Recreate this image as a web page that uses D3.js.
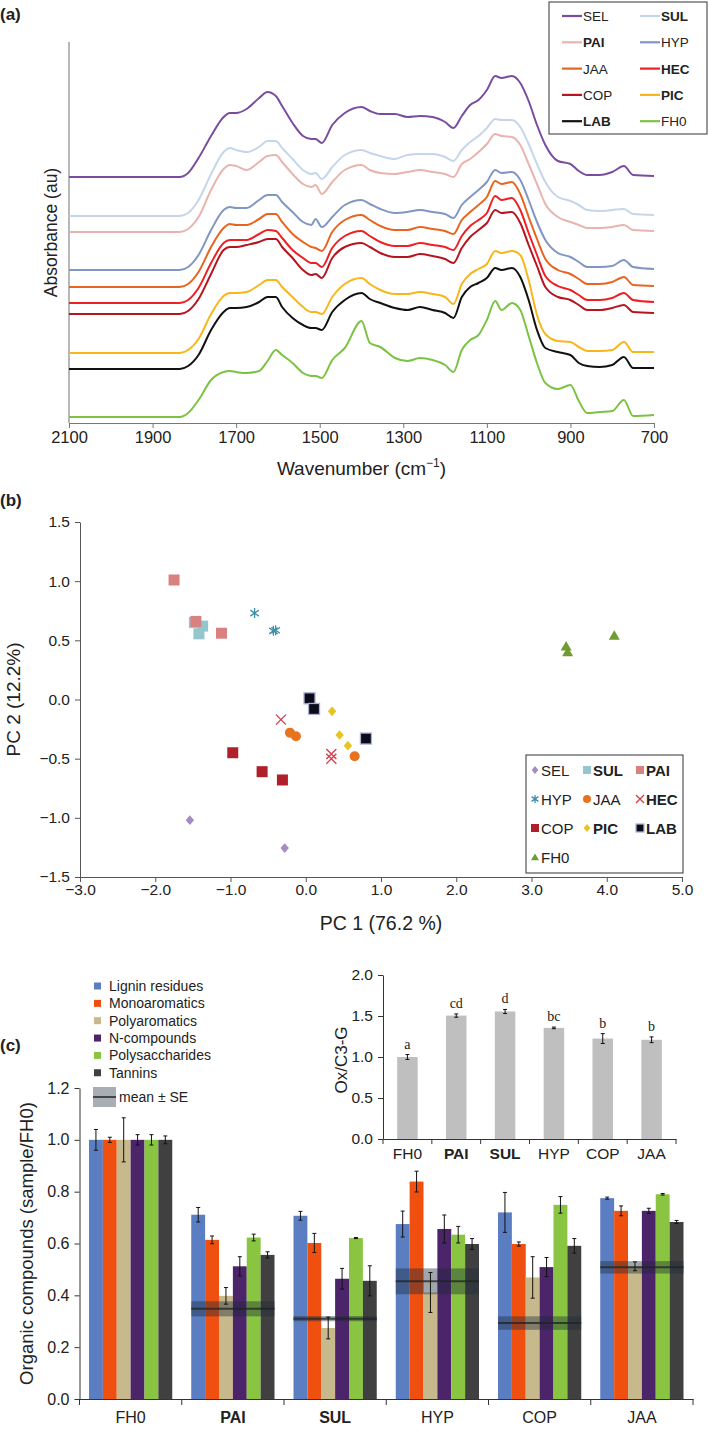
<!DOCTYPE html>
<html><head><meta charset="utf-8">
<script src="https://cdn.jsdelivr.net/npm/d3@7"></script>
<style>
body{margin:0;background:#fff;}
svg{display:block;font-family:"Liberation Sans",Arial,Helvetica,sans-serif;}
</style></head><body>
<svg id="chart" width="709" height="1430"></svg>
<script>
// ================= Panel (a) data =================
const wavenumbers = [2100,1835,1815,1790,1760,1730,1715,1700,1675,1645,1625,1605,1590,1565,1540,1520,1510,1495,1470,1440,1400,1380,1355,1320,1290,1260,1230,1200,1180,1160,1140,1120,1100,1080,1065,1040,1020,1000,980,960,930,900,880,860,830,800,772,750,700];
const spectraNames = ["SEL","SUL","PAI","HYP","JAA","HEC","COP","PIC","LAB","FH0"];
const spectraBold = [false,true,true,false,false,true,false,true,true,false];
const spectraColors = ["#7a4c9f","#c6d6ea","#e9b3af","#8196c2","#e8651f","#ee2024","#b5151f","#f8b61b","#111111","#7cc243"];
const spectraOffsets = [246,207,191,153,136,120,109,70,54,6];
const absSEL = [0,0,4,19,41,60,64,64,68,79,85,81,71,54,41,38,38,34,52,64,70,66,63,63,60,61,60,55,49,61,72,77,87,101,99,101,94,76,52,32,16,13,6,2,2,5,11,2,1];
const absSUL = [0,0,3,16,42,64,68,66,64,69,75,75,68,57,46,42,43,37,49,61,66,63,60,57,61,62,62,59,55,66,74,80,88,97,96,96,89,72,52,34,19,15,11,6,5,6,7,2,1];
const absPAI = [0,0,3,15,42,63,67,66,62,70,76,77,70,58,48,45,47,38,50,62,67,62,59,58,60,62,60,58,55,68,73,80,88,98,96,95,87,68,48,28,15,10,7,4,4,5,7,2,1];
const absHYP = [0,0,3,15,40,60,63,62,62,70,75,75,68,58,48,45,51,43,53,65,70,66,61,57,58,60,58,56,52,65,73,80,88,100,97,98,90,70,48,30,17,13,8,3,3,4,10,3,1];
const absJAA = [0,0,3,15,40,59,63,62,62,68,73,73,65,53,45,40,39,36,55,67,72,67,61,57,57,60,58,56,53,67,75,82,90,106,103,105,93,70,48,28,17,13,8,3,3,5,10,2,1];
const absHEC = [0,0,3,15,40,60,63,63,63,69,73,72,65,53,45,40,40,36,55,67,72,67,61,57,57,60,58,56,53,67,77,83,90,107,103,105,93,70,48,27,17,13,8,3,3,5,10,3,1];
const absCOP = [0,0,3,15,40,64,67,67,69,72,75,75,67,56,44,39,40,36,56,67,71,67,61,57,57,60,58,55,51,66,77,84,91,104,101,102,91,69,48,27,17,14,9,4,4,6,9,2,1];
const absPIC = [0,0,3,14,39,57,60,60,61,68,73,73,66,56,46,41,41,39,56,69,75,69,63,59,59,61,59,56,49,69,79,84,89,102,100,102,98,73,38,19,12,11,6,2,2,3,11,1,1];
const absLAB = [0,0,3,14,39,57,61,61,62,67,72,72,62,51,44,41,41,39,57,69,76,70,66,61,59,62,59,56,51,72,82,86,91,101,99,101,92,69,39,21,17,14,6,3,2,4,12,1,1];
const absFH0 = [0,0,4,17,37,45,46,45,44,46,56,67,62,54,44,41,41,39,57,69,96,74,70,59,56,59,57,52,45,67,77,82,97,116,107,114,107,81,54,34,28,32,16,4,5,6,17,1,2];
const spectra = [absSEL,absSUL,absPAI,absHYP,absJAA,absHEC,absCOP,absPIC,absLAB,absFH0];
const wnTicks = [2100,1900,1700,1500,1300,1100,900,700];

// ================= Panel (b) data =================
const pcaNames = ["SEL","SUL","PAI","HYP","JAA","HEC","COP","PIC","LAB","FH0"];
const pcaBold = [false,true,true,false,false,true,false,true,true,false];
const pcaColors = ["#a48cc1","#93c6cd","#d98080","#3f8eab","#e8731f","#d63a4b","#b0202a","#e9c420","#0b0b1c","#6f9b2f"];
const pointGroup = ["SEL","SEL","SUL","SUL","SUL","PAI","PAI","PAI","HYP","HYP","HYP","JAA","JAA","JAA","HEC","HEC","HEC","COP","COP","COP","PIC","PIC","PIC","LAB","LAB","LAB","FH0","FH0","FH0"];
const pointPC1 = [-1.54,-0.28,-1.48,-1.37,-1.42,-1.75,-1.46,-1.12,-0.68,-0.43,-0.40,-0.21,-0.13,0.65,-0.33,0.34,0.34,-0.97,-0.58,-0.31,0.35,0.45,0.56,0.05,0.11,0.80,3.46,3.48,4.10];
const pointPC2 = [-1.02,-1.255,0.65,0.62,0.555,1.01,0.66,0.56,0.73,0.58,0.585,-0.28,-0.31,-0.48,-0.17,-0.46,-0.50,-0.45,-0.61,-0.68,-0.10,-0.30,-0.39,0.01,-0.08,-0.33,0.45,0.40,0.54];
const pc1Ticks = [-3,-2,-1,0,1,2,3,4,5];
const pc2Ticks = [-1.5,-1,-0.5,0,0.5,1,1.5];

// ================= Panel (c) data =================
const groups = ["FH0","PAI","SUL","HYP","COP","JAA"];
const groupBold = [false,true,true,false,false,false];
const compounds = ["Lignin residues","Monoaromatics","Polyaromatics","N-compounds","Polysaccharides","Tannins"];
const compoundColors = ["#5b7ec3","#ef5010","#c8b98c","#4b2469","#89c540","#404040"];
const lignin = [1.0,0.711,0.707,0.675,0.720,0.775];
const monoarom = [1.0,0.614,0.602,0.839,0.598,0.726];
const polyarom = [1.0,0.398,0.274,0.411,0.469,0.512];
const ncomp = [1.0,0.512,0.464,0.656,0.509,0.726];
const polysacch = [1.0,0.623,0.621,0.634,0.749,0.790];
const tannins = [1.0,0.556,0.456,0.598,0.591,0.683];
const ligninErr = [0.04,0.028,0.017,0.05,0.077,0.004];
const monoaromErr = [0.01,0.015,0.037,0.04,0.008,0.019];
const polyaromErr = [0.085,0.032,0.042,0.077,0.08,0.017];
const ncompErr = [0.02,0.037,0.04,0.054,0.037,0.01];
const polysacchErr = [0.02,0.013,0.002,0.032,0.032,0.003];
const tanninsErr = [0.015,0.012,0.058,0.021,0.028,0.006];
const groupMean = [null,0.348,0.310,0.454,0.293,0.508];
const groupMeanSE = [null,0.029,0.010,0.050,0.026,0.024];
const cTicks = [0,0.2,0.4,0.6,0.8,1.0,1.2];
// inset
const oxC3G = [1.0,1.505,1.555,1.355,1.225,1.21];
const oxC3GErr = [0.03,0.02,0.025,0.01,0.06,0.035];
const oxLetters = ["a","cd","d","bc","b","b"];
const insetTicks = [0,0.5,1.0,1.5,2.0];

const compoundValues = [lignin,monoarom,polyarom,ncomp,polysacch,tannins];
const compoundErrors = [ligninErr,monoaromErr,polyaromErr,ncompErr,polysacchErr,tanninsErr];

const svg = d3.select("#chart");
const TXT = "#222";

function styleAxis(g, fs, col){
  g.attr("font-family",null).attr("font-size",fs);
  g.selectAll("path,line").attr("stroke",col);
  g.selectAll("text").attr("fill",TXT);
}

// ================= Panel (a) =================
const xA = d3.scaleLinear().domain([2100,700]).range([69,654]);
const yA = d3.scaleLinear().domain([0,381]).range([423,42]);

svg.append("text").attr("x",0).attr("y",20).attr("font-size",17).attr("font-weight","bold").attr("fill",TXT).text("(a)");

svg.append("line").attr("x1",xA(2100)).attr("x2",xA(2100)).attr("y1",yA(381)).attr("y2",yA(0)).attr("stroke","#888").attr("stroke-width",1.2);
const axA = svg.append("g").attr("transform",`translate(0,${yA(0)})`)
  .call(d3.axisBottom(xA).tickValues(wnTicks).tickFormat(d3.format("d")).tickSize(5).tickSizeOuter(0).tickPadding(3));
styleAxis(axA,16.5,"#777");

svg.append("text").attr("x",(xA(2100)+xA(700))/2).attr("y",475).attr("text-anchor","middle").attr("font-size",19).attr("fill",TXT)
  .call(t=>{t.append("tspan").text("Wavenumber (cm");t.append("tspan").attr("dy",-8).attr("font-size",12).text("−1");t.append("tspan").attr("dy",8).text(")");});
svg.append("text").attr("transform",`translate(57,${(yA(0)+yA(381))/2}) rotate(-90)`).attr("text-anchor","middle").attr("font-size",17.5).attr("fill",TXT).text("Absorbance (au)");

const lineA = (arr,off)=> d3.line().x((d,i)=>xA(wavenumbers[i])).y(d=>yA(d+off)).curve(d3.curveMonotoneX)(arr);
spectra.forEach((arr,k)=>{
  svg.append("path").attr("d",lineA(arr,spectraOffsets[k])).attr("fill","none")
    .attr("stroke",spectraColors[k]).attr("stroke-width",2).attr("stroke-linejoin","round");
});

// legend (a)
const legA = svg.append("g");
legA.append("rect").attr("x",549).attr("y",2).attr("width",158).attr("height",132).attr("fill","#fff").attr("stroke","#333").attr("stroke-width",1);
spectraNames.forEach((n,i)=>{
  const col=i%2,row=Math.floor(i/2);
  const x0=[562,640][col], y0=16+row*26.3;
  legA.append("line").attr("x1",x0).attr("x2",x0+20).attr("y1",y0).attr("y2",y0).attr("stroke",spectraColors[i]).attr("stroke-width",2.2);
  legA.append("text").attr("x",x0+21).attr("y",y0+5).attr("font-size",13.5).attr("fill",TXT)
    .attr("font-weight",spectraBold[i]?"bold":"normal").text(n);
});

// ================= Panel (b) =================
const xB = d3.scaleLinear().domain([-3,5]).range([80,682]);
const yB = d3.scaleLinear().domain([-1.5,1.5]).range([877,522]);
svg.append("text").attr("x",0).attr("y",506).attr("font-size",17).attr("font-weight","bold").attr("fill",TXT).text("(b)");

const axBx = svg.append("g").attr("transform",`translate(0,${yB(-1.5)})`)
  .call(d3.axisBottom(xB).tickValues(pc1Ticks).tickFormat(d3.format(".1f")).tickSize(5).tickSizeOuter(0).tickPadding(2));
styleAxis(axBx,15.5,"#555");
const axBy = svg.append("g").attr("transform",`translate(${xB(-3)},0)`)
  .call(d3.axisLeft(yB).tickValues(pc2Ticks).tickFormat(d3.format(".1f")).tickSize(5).tickSizeOuter(0).tickPadding(5));
styleAxis(axBy,15.5,"#555");
svg.append("text").attr("x",(xB(-3)+xB(5))/2).attr("y",930).attr("text-anchor","middle").attr("font-size",19.5).attr("fill",TXT).text("PC 1 (76.2 %)");
svg.append("text").attr("transform",`translate(20,${(yB(-1.5)+yB(1.5))/2}) rotate(-90)`).attr("text-anchor","middle").attr("font-size",19).attr("fill",TXT).text("PC 2 (12.2%)");

function drawMarker(g,name,cx,cy,s){
  const i = pcaNames.indexOf(name), c = pcaColors[i];
  let el;
  if(name==="SEL"||name==="PIC"){
    el=g.append("path").attr("d",d3.symbol(d3.symbolDiamond2,s*s/2)()).attr("fill",c).attr("transform",`translate(${cx},${cy}) scale(0.95,1.1)`);
  } else if(name==="SUL"||name==="PAI"||name==="COP"){
    el=g.append("rect").attr("x",cx-s/2).attr("y",cy-s/2).attr("width",s).attr("height",s).attr("fill",c);
  } else if(name==="LAB"){
    el=g.append("rect").attr("x",cx-s/2).attr("y",cy-s/2).attr("width",s).attr("height",s).attr("fill",c).attr("stroke","#aab4cf").attr("stroke-width",1.3);
  } else if(name==="JAA"){
    el=g.append("circle").attr("cx",cx).attr("cy",cy).attr("r",s/2).attr("fill",c);
  } else if(name==="FH0"){
    el=g.append("path").attr("d",d3.symbol(d3.symbolTriangle,0.433*s*s)()).attr("fill",c).attr("transform",`translate(${cx},${cy+1})`);
  } else if(name==="HYP"){
    const r=s/2;
    el=g.append("path").attr("d",`M${cx},${cy-r}L${cx},${cy+r}M${cx-r*0.85},${cy-r*0.6}L${cx+r*0.85},${cy+r*0.6}M${cx-r*0.85},${cy+r*0.6}L${cx+r*0.85},${cy-r*0.6}`)
      .attr("stroke",c).attr("stroke-width",1.3).attr("fill","none");
  } else if(name==="HEC"){
    const r=s/2;
    el=g.append("path").attr("d",`M${cx-r},${cy-r}L${cx+r},${cy+r}M${cx-r},${cy+r}L${cx+r},${cy-r}`)
      .attr("stroke",c).attr("stroke-width",1.3).attr("fill","none");
  }
  return el;
}
const ptsB = svg.append("g");
const pointOrder = ["SEL","HYP","SUL","PAI","COP","JAA","HEC","PIC","LAB","FH0"];
pointOrder.forEach(n=>{
  pointGroup.forEach((g,j)=>{ if(g===n) drawMarker(ptsB,n,xB(pointPC1[j]),yB(pointPC2[j]),n==="JAA"?10:(n==="SEL"||n==="PIC"?10:(n==="HEC"||n==="HYP"?10:11))); });
});

// legend (b)
const legB = svg.append("g");
legB.append("rect").attr("x",526).attr("y",755).attr("width",157).attr("height",118).attr("fill","#fff").attr("stroke","#333").attr("stroke-width",1);
pcaNames.forEach((n,i)=>{
  const col=i%3,row=Math.floor(i/3);
  const mx=[535,587,640][col], y0=[770,799,828,857][row];
  drawMarker(legB,n,mx,y0,8);
  legB.append("text").attr("x",mx+6).attr("y",y0+5.5).attr("font-size",15).attr("fill",TXT)
    .attr("font-weight",pcaBold[i]?"bold":"normal").text(n);
});

// ================= Panel (c) =================
svg.append("text").attr("x",0).attr("y",1051).attr("font-size",17).attr("font-weight","bold").attr("fill",TXT).text("(c)");
const yC = d3.scaleLinear().domain([0,1.2]).range([1399,1088]);
const xC = d3.scaleBand().domain(groups).range([79.5,693]);
const xInner = d3.scaleBand().domain(compounds).range([9.5,xC.bandwidth()-9.5]);

const axCy = svg.append("g").attr("transform",`translate(${xC.range()[0]},0)`)
  .call(d3.axisLeft(yC).tickValues(cTicks).tickFormat(d3.format(".1f")).tickSize(5).tickSizeOuter(0).tickPadding(5));
styleAxis(axCy,16,"#333");
const axCx = svg.append("g").attr("transform",`translate(0,${yC(0)})`)
  .call(d3.axisBottom(xC).tickSize(0).tickPadding(13));
styleAxis(axCx,16,"#333");
axCx.selectAll(".tick text").attr("font-weight",(d,i)=>groupBold[i]?"bold":"normal");
const bndC = groups.map(g=>xC(g)).concat([xC.range()[1]]);
axCx.selectAll(".bt").data(bndC).join("line").attr("x1",d=>d).attr("x2",d=>d).attr("y1",0).attr("y2",6).attr("stroke","#333");

svg.append("text").attr("transform",`translate(33,${(yC(0)+yC(1.2))/2}) rotate(-90)`).attr("text-anchor","middle").attr("font-size",18.5).attr("fill",TXT).text("Organic compounds (sample/FH0)");

// bars
compounds.forEach((c,ci)=>{
  groups.forEach((g,gi)=>{
    const v=compoundValues[ci][gi];
    svg.append("rect").attr("x",xC(g)+xInner(c)).attr("width",xInner.bandwidth()).attr("y",yC(v)).attr("height",yC(0)-yC(v)).attr("fill",compoundColors[ci]);
  });
});
// mean ± SE bands
groups.forEach((g,gi)=>{
  if(groupMean[gi]==null) return;
  const x0=xC(g)+xInner.range()[0], x1=xC(g)+xInner.range()[1];
  svg.append("rect").attr("x",x0).attr("width",x1-x0).attr("y",yC(groupMean[gi]+groupMeanSE[gi])).attr("height",yC(groupMean[gi]-groupMeanSE[gi])-yC(groupMean[gi]+groupMeanSE[gi]))
    .attr("fill","#1c2a3a").attr("fill-opacity",0.42);
  svg.append("line").attr("x1",x0).attr("x2",x1).attr("y1",yC(groupMean[gi])).attr("y2",yC(groupMean[gi])).attr("stroke","#222").attr("stroke-opacity",0.75).attr("stroke-width",2);
});
// error bars
compounds.forEach((c,ci)=>{
  groups.forEach((g,gi)=>{
    const v=compoundValues[ci][gi], e=compoundErrors[ci][gi];
    const cx=xC(g)+xInner(c)+xInner.bandwidth()/2;
    const eg=svg.append("g").attr("stroke","#111").attr("stroke-width",1);
    eg.append("line").attr("x1",cx).attr("x2",cx).attr("y1",yC(v+e)).attr("y2",yC(v-e));
    eg.append("line").attr("x1",cx-2).attr("x2",cx+2).attr("y1",yC(v+e)).attr("y2",yC(v+e));
    eg.append("line").attr("x1",cx-2).attr("x2",cx+2).attr("y1",yC(v-e)).attr("y2",yC(v-e));
  });
});

// legend (c)
const legC = svg.append("g");
compounds.forEach((c,i)=>{
  const y0=986+i*17.35;
  legC.append("rect").attr("x",94).attr("y",y0-3.5).attr("width",7).attr("height",7).attr("fill",compoundColors[i]);
  legC.append("text").attr("x",109).attr("y",y0+5).attr("font-size",14).attr("fill",TXT).text(c);
});
legC.append("rect").attr("x",93).attr("y",1087).attr("width",23).attr("height",20).attr("fill","#1c2a3a").attr("fill-opacity",0.38);
legC.append("line").attr("x1",93).attr("x2",116).attr("y1",1097).attr("y2",1097).attr("stroke","#222").attr("stroke-opacity",0.75).attr("stroke-width",2);
legC.append("text").attr("x",119).attr("y",1102).attr("font-size",14).attr("fill",TXT).text("mean ± SE");

// inset
const yI = d3.scaleLinear().domain([0,2]).range([1139,975]);
const xI = d3.scaleBand().domain(groups).range([383,676]);
const axIy = svg.append("g").attr("transform",`translate(${xI.range()[0]},0)`)
  .call(d3.axisLeft(yI).tickValues(insetTicks).tickFormat(d3.format(".1f")).tickSize(5).tickSizeOuter(0).tickPadding(5));
styleAxis(axIy,15.5,"#333");
const axIx = svg.append("g").attr("transform",`translate(0,${yI(0)})`)
  .call(d3.axisBottom(xI).tickSize(0).tickPadding(9));
styleAxis(axIx,15.5,"#333");
axIx.selectAll(".tick text").attr("font-weight",(d,i)=>groupBold[i]?"bold":"normal");
const bndI = groups.map(g=>xI(g)).concat([xI.range()[1]]);
axIx.selectAll(".bt").data(bndI).join("line").attr("x1",d=>d).attr("x2",d=>d).attr("y1",0).attr("y2",5).attr("stroke","#333");
svg.append("text").attr("transform",`translate(347,${(yI(0)+yI(2))/2+3}) rotate(-90)`).attr("text-anchor","middle").attr("font-size",17).attr("fill",TXT).text("Ox/C3-G");

const bwI = xI.bandwidth()*0.42;
groups.forEach((g,gi)=>{
  const cx=xI(g)+xI.bandwidth()/2, v=oxC3G[gi], e=oxC3GErr[gi];
  svg.append("rect").attr("x",cx-bwI/2).attr("width",bwI).attr("y",yI(v)).attr("height",yI(0)-yI(v)).attr("fill","#bfbfbf");
  const eg=svg.append("g").attr("stroke","#111").attr("stroke-width",1);
  eg.append("line").attr("x1",cx).attr("x2",cx).attr("y1",yI(v+e)).attr("y2",yI(v-e));
  eg.append("line").attr("x1",cx-2).attr("x2",cx+2).attr("y1",yI(v+e)).attr("y2",yI(v+e));
  eg.append("line").attr("x1",cx-2).attr("x2",cx+2).attr("y1",yI(v-e)).attr("y2",yI(v-e));
  svg.append("text").attr("x",cx).attr("y",yI(v+e)-6).attr("text-anchor","middle").attr("font-family","'Liberation Serif','Times New Roman',serif").attr("font-size",14).attr("fill",TXT).text(oxLetters[gi]);
});
</script>
</body></html>
